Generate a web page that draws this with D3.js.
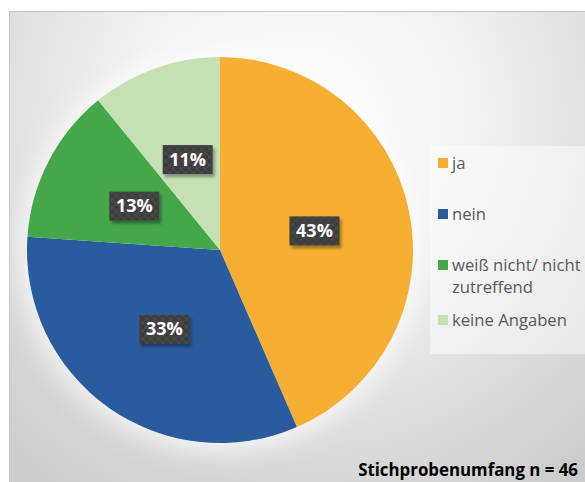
<!DOCTYPE html>
<html>
<head>
<meta charset="utf-8">
<script src="https://cdn.jsdelivr.net/npm/d3@7"></script>
<style>
  body { margin: 0; background: #fff; }
  svg { display: block; }
</style>
</head>
<body>
<svg id="chart" width="585" height="482"></svg>
<script>
// answers and counts (n = 46)
const categories = ["ja", "nein", "weiß nicht/ nicht zutreffend", "keine Angaben"];
const counts = [20, 15, 6, 5];
const percentLabels = ["43%", "33%", "13%", "11%"];
const legendLines = [["ja"], ["nein"], ["weiß nicht/ nicht", "zutreffend"], ["keine Angaben"]];
const footnote = "Stichprobenumfang n = 46";

const colors = ["#F6AF33", "#2A5B9F", "#44A84A", "#C5E0B3"];

const svg = d3.select("#chart"),
    width = +svg.attr("width"),
    height = +svg.attr("height");

const defs = svg.append("defs");

// background gradient
const bg = defs.append("radialGradient")
    .attr("id", "bg")
    .attr("gradientUnits", "userSpaceOnUse")
    .attr("cx", 300).attr("cy", 120).attr("r", 440);
bg.append("stop").attr("offset", "0%").attr("stop-color", "#ffffff");
bg.append("stop").attr("offset", "35%").attr("stop-color", "#f4f4f4");
bg.append("stop").attr("offset", "100%").attr("stop-color", "#cccccc");

// checker pattern for data label boxes
const pat = defs.append("pattern")
    .attr("id", "checker")
    .attr("patternUnits", "userSpaceOnUse")
    .attr("width", 8).attr("height", 8);
pat.append("rect").attr("width", 8).attr("height", 8).attr("fill", "#3c3c3c");
pat.append("rect").attr("width", 4).attr("height", 4).attr("fill", "#464646");
pat.append("rect").attr("x", 4).attr("y", 4).attr("width", 4).attr("height", 4).attr("fill", "#464646");

const shadow = defs.append("filter").attr("id", "shadow")
    .attr("x", "-20%").attr("y", "-20%").attr("width", "150%").attr("height", "160%");
shadow.append("feDropShadow")
    .attr("dx", 2).attr("dy", 3).attr("stdDeviation", 1.5)
    .attr("flood-color", "#000").attr("flood-opacity", 0.35);

const glow = defs.append("filter").attr("id", "glow")
    .attr("x", "-30%").attr("y", "-30%").attr("width", "160%").attr("height", "160%");
glow.append("feGaussianBlur").attr("stdDeviation", 12);

// chart area
svg.append("rect")
    .attr("x", 9.5).attr("y", 11.5)
    .attr("width", width).attr("height", height)
    .attr("fill", "url(#bg)")
    .attr("stroke", "#c4c4c4");

const cx = 220, cy = 250, radius = 193;

svg.append("circle")
    .attr("cx", cx).attr("cy", cy + 2).attr("r", radius + 6)
    .attr("fill", "#ffffff").attr("opacity", 0.7)
    .attr("filter", "url(#glow)");

const pie = d3.pie().sort(null).value(d => d);
const arcs = pie(counts);
const arc = d3.arc().innerRadius(0).outerRadius(radius);
const labelArc = d3.arc().innerRadius(radius * 0.5).outerRadius(radius * 0.5);

const g = svg.append("g").attr("transform", `translate(${cx},${cy})`);

g.selectAll("path.slice")
    .data(arcs)
    .enter().append("path")
    .attr("class", "slice")
    .attr("d", arc)
    .attr("fill", (d, i) => colors[i]);

// data labels
const lbl = g.selectAll("g.lbl")
    .data(arcs)
    .enter().append("g")
    .attr("class", "lbl")
    .attr("transform", d => "translate(" + labelArc.centroid(d) + ")");

lbl.append("rect")
    .attr("x", -25).attr("y", -14)
    .attr("width", 50).attr("height", 29)
    .attr("fill", "url(#checker)")
    .attr("filter", "url(#shadow)");

lbl.append("text")
    .attr("text-anchor", "middle")
    .attr("dy", "0.36em")
    .attr("fill", "#ffffff")
    .attr("font-family", "'Open Sans', sans-serif")
    .attr("font-weight", "bold")
    .attr("font-size", 18)
    .text((d, i) => percentLabels[i]);

// legend
svg.append("rect")
    .attr("x", 430).attr("y", 146)
    .attr("width", width - 430).attr("height", 208)
    .attr("fill", "#ffffff").attr("opacity", 0.45);

const legendY = [163, 214, 265, 320];
const legend = svg.selectAll("g.legend")
    .data(categories)
    .enter().append("g")
    .attr("class", "legend")
    .attr("transform", (d, i) => `translate(438,${legendY[i]})`);

legend.append("rect")
    .attr("x", 0).attr("y", -5)
    .attr("width", 10).attr("height", 10)
    .attr("fill", (d, i) => colors[i]);

const legendText = legend.append("text")
    .attr("x", 14)
    .attr("fill", "#595959")
    .attr("font-family", "'Open Sans', sans-serif")
    .attr("font-size", 15)
    .each(function(d, i) {
      const t = d3.select(this);
      legendLines[i].forEach((line, k) => {
        t.append("tspan")
          .attr("x", 14)
          .attr("y", k * 22)
          .attr("dy", "0.34em")
          .text(line);
      });
    });

// scale legend font so "keine Angaben" is about as wide as in the original
const kw = legendText.filter((d, i) => i === 3).node().getComputedTextLength();
legendText.attr("font-size", Math.min(17, 15 * 115 / kw));

const foot = svg.append("text")
    .attr("x", 578).attr("y", 476)
    .attr("text-anchor", "end")
    .attr("fill", "#000")
    .attr("font-family", "'Open Sans', sans-serif")
    .attr("font-weight", "bold")
    .attr("font-size", 14)
    .text(footnote);
const fw = foot.node().getComputedTextLength();
foot.attr("font-size", Math.min(17, 14 * 220 / fw));
</script>
</body>
</html>
